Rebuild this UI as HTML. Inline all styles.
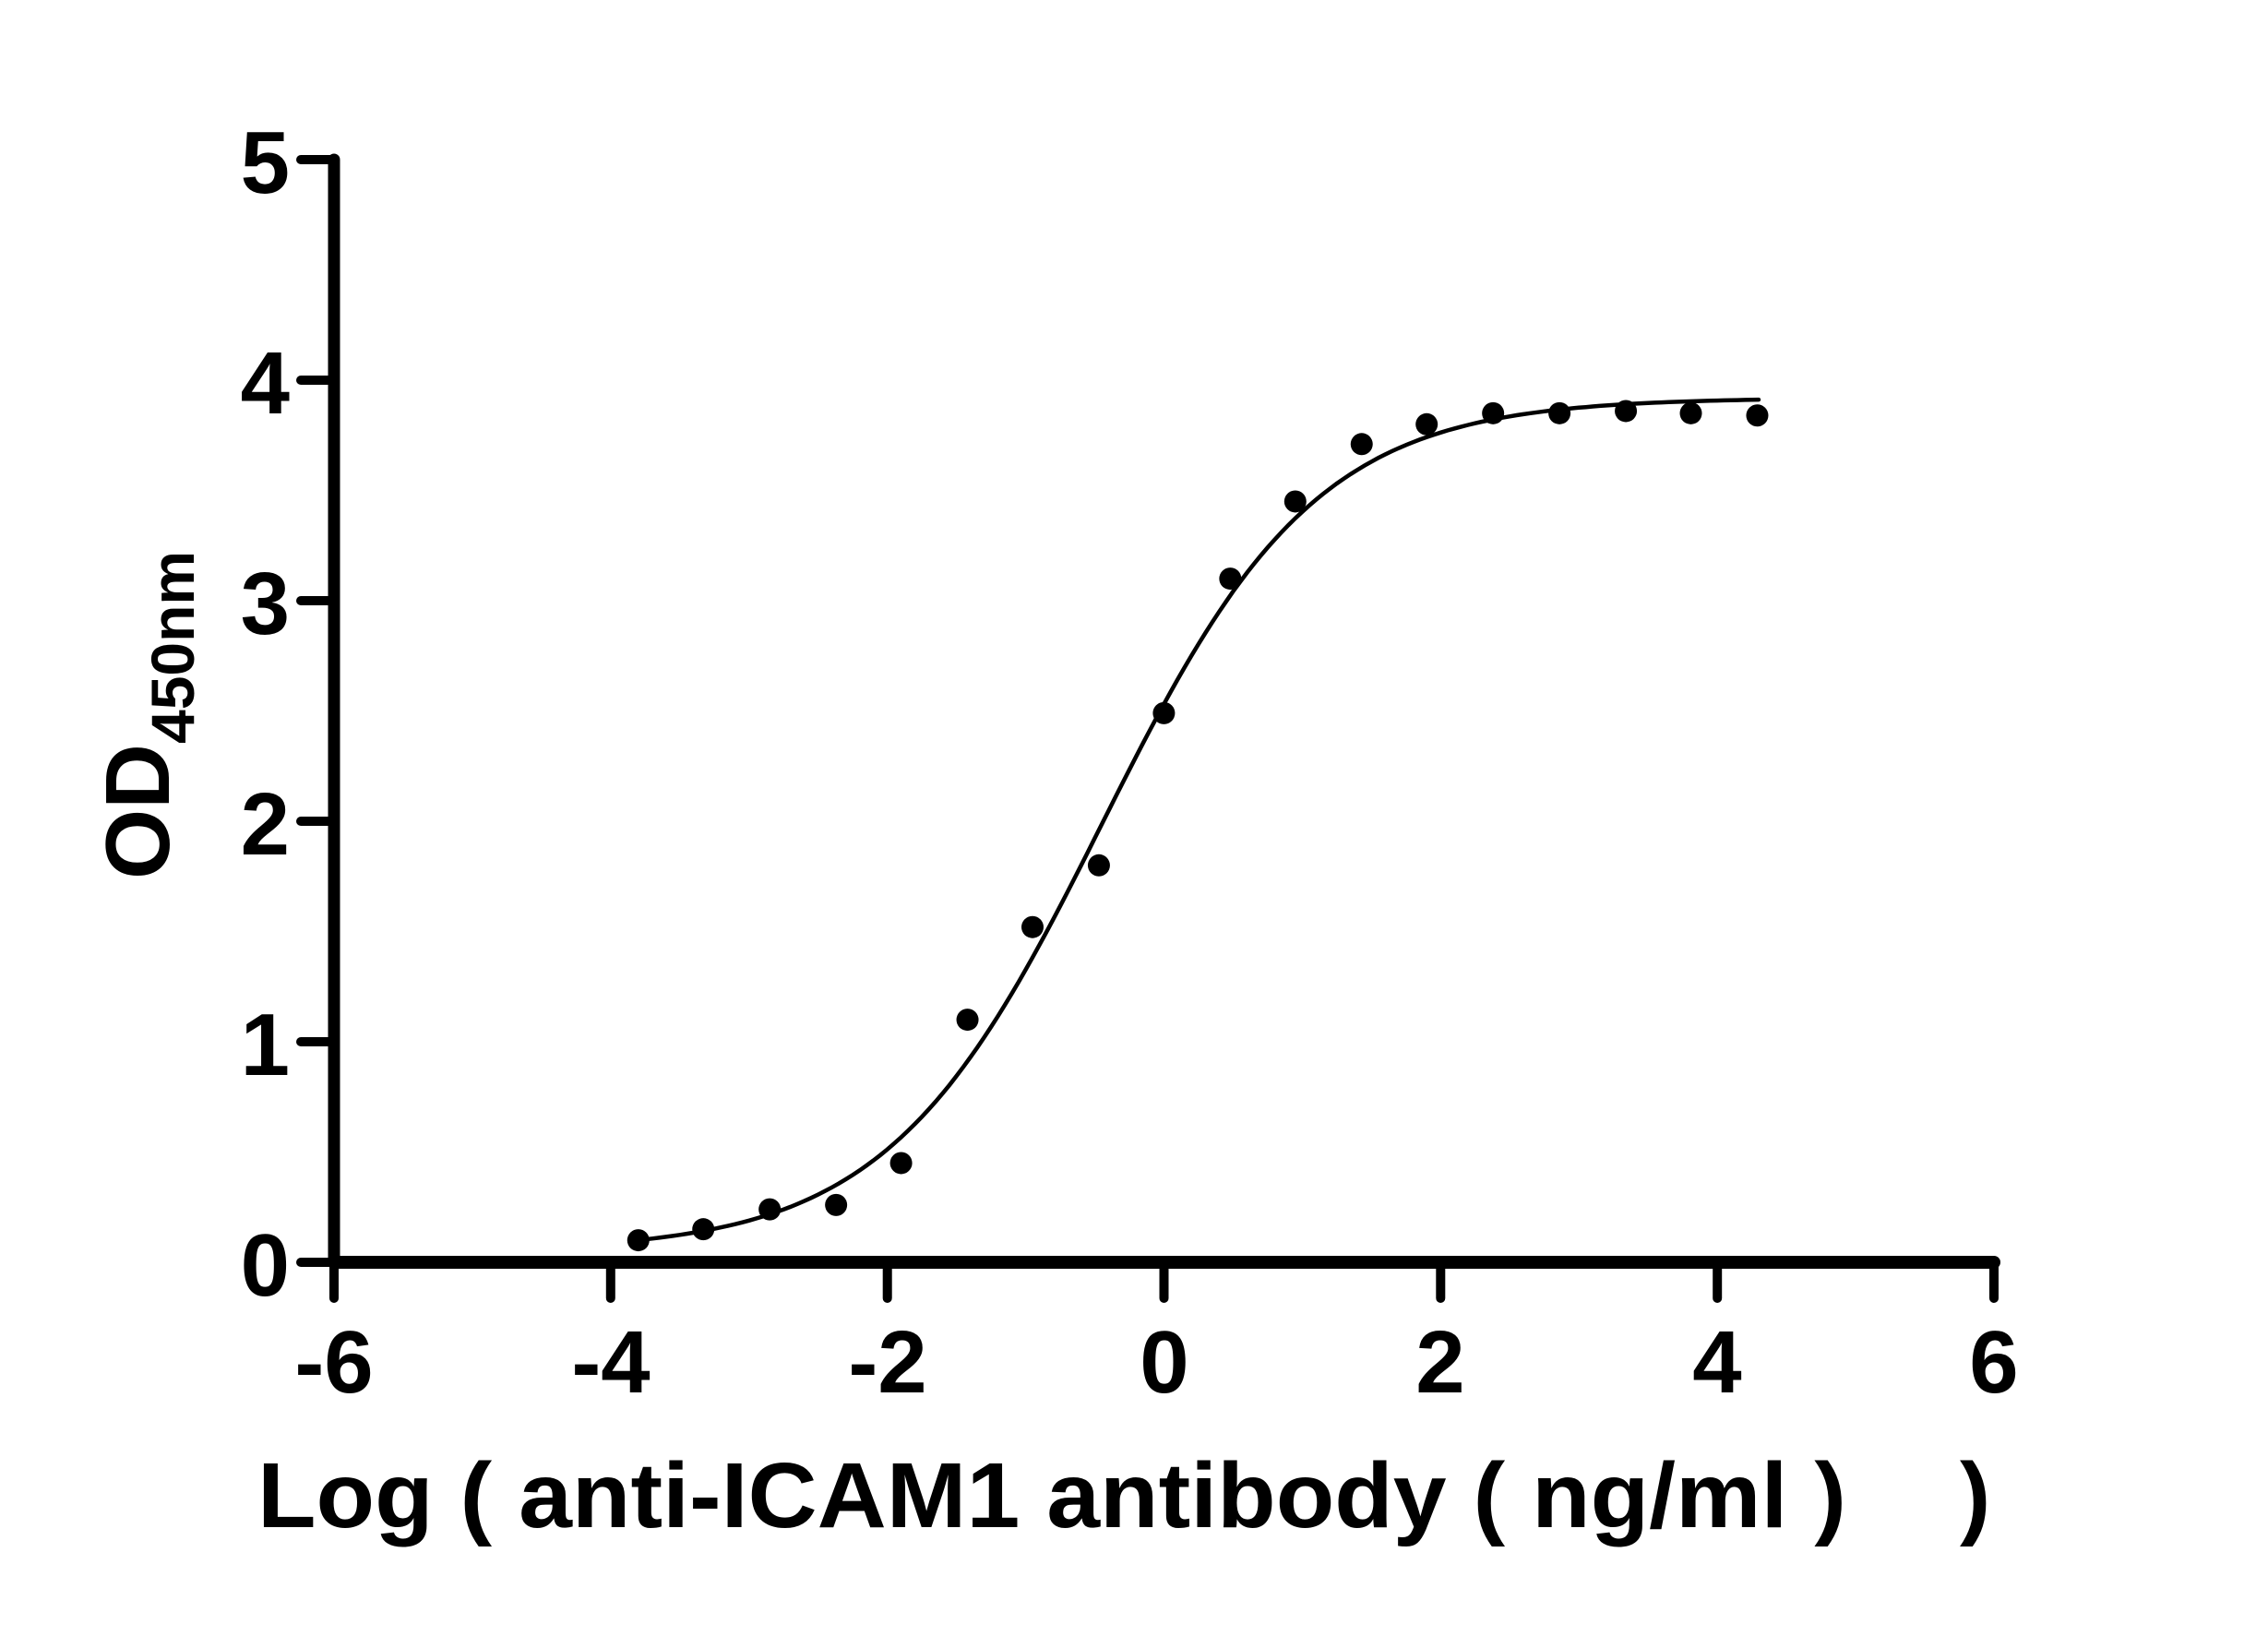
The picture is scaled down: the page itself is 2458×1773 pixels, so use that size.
<!DOCTYPE html>
<html><head><meta charset="utf-8"><style>
html,body{margin:0;padding:0;background:#fff}
svg{display:block}
text{font-family:"Liberation Sans",sans-serif;font-weight:bold;fill:#000}
</style></head><body>
<svg id="s" width="2458" height="1773" viewBox="0 0 2458 1773" xmlns="http://www.w3.org/2000/svg">
<g stroke="#000" stroke-linecap="round" fill="none">
<line x1="362" y1="173" x2="362" y2="1368" stroke-width="13"/>
<line x1="362" y1="1368" x2="2161" y2="1368" stroke-width="14"/>
<g stroke-width="10">
<line x1="326" y1="173" x2="362" y2="173"/>
<line x1="326" y1="412" x2="362" y2="412"/>
<line x1="326" y1="651" x2="362" y2="651"/>
<line x1="326" y1="890" x2="362" y2="890"/>
<line x1="326" y1="1129" x2="362" y2="1129"/>
<line x1="326" y1="1368" x2="362" y2="1368"/>
<line x1="362" y1="1368" x2="362" y2="1407"/>
<line x1="661.8" y1="1368" x2="661.8" y2="1407"/>
<line x1="961.7" y1="1368" x2="961.7" y2="1407"/>
<line x1="1261.5" y1="1368" x2="1261.5" y2="1407"/>
<line x1="1561.3" y1="1368" x2="1561.3" y2="1407"/>
<line x1="1861.2" y1="1368" x2="1861.2" y2="1407"/>
<line x1="2161" y1="1368" x2="2161" y2="1407"/>
</g>
<path id="curve" stroke-width="4.5" d=""/>
</g>
<g id="dots" fill="#000"></g>
<g font-size="96" text-anchor="end">
<text x="314" y="209">5</text>
<text x="314" y="448">4</text>
<text x="314" y="687">3</text>
<text x="314" y="926">2</text>
<text x="314" y="1165">1</text>
<text x="314" y="1404">0</text>
</g>
<g font-size="96" text-anchor="middle">
<text x="362" y="1509">-6</text>
<text x="662" y="1509">-4</text>
<text x="962" y="1509">-2</text>
<text x="1262" y="1509">0</text>
<text x="1561" y="1509">2</text>
<text x="1861" y="1509">4</text>
<text x="2161" y="1509">6</text>
</g>
<text x="279" y="1655" font-size="100" textLength="1722" lengthAdjust="spacingAndGlyphs">Log ( anti-ICAM1 antibody ( ng/ml )</text>
<text x="2124" y="1655" font-size="100">)</text>
<text transform="translate(183,953) rotate(-90)" font-size="98">OD<tspan font-size="66" dy="27">450nm</tspan></text>
</svg>
<script>
var X=function(x){return 362+(x+6)*149.9},Y=function(y){return 1368-y*239};
var d="";for(var x=-3.8;x<=4.3001;x+=0.05){var y=0.05+3.87/(1+Math.pow(10,(-0.45-x)*0.56));d+=(d?"L":"M")+X(x).toFixed(1)+" "+Y(y).toFixed(1);}
document.getElementById("curve").setAttribute("d",d);
var pts=[[-3.8,0.1],[-3.33,0.15],[-2.85,0.24],[-2.37,0.26],[-1.9,0.45],[-1.42,1.1],[-0.95,1.52],[-0.47,1.8],[0,2.49],[0.48,3.1],[0.95,3.45],[1.43,3.71],[1.9,3.8],[2.38,3.85],[2.86,3.85],[3.34,3.86],[3.81,3.85],[4.29,3.84]];
var g=document.getElementById("dots"),h="";
pts.forEach(function(p){h+='<circle cx="'+X(p[0])+'" cy="'+Y(p[1])+'" r="12"/>';});
g.innerHTML=h;
</script>
</body></html>
